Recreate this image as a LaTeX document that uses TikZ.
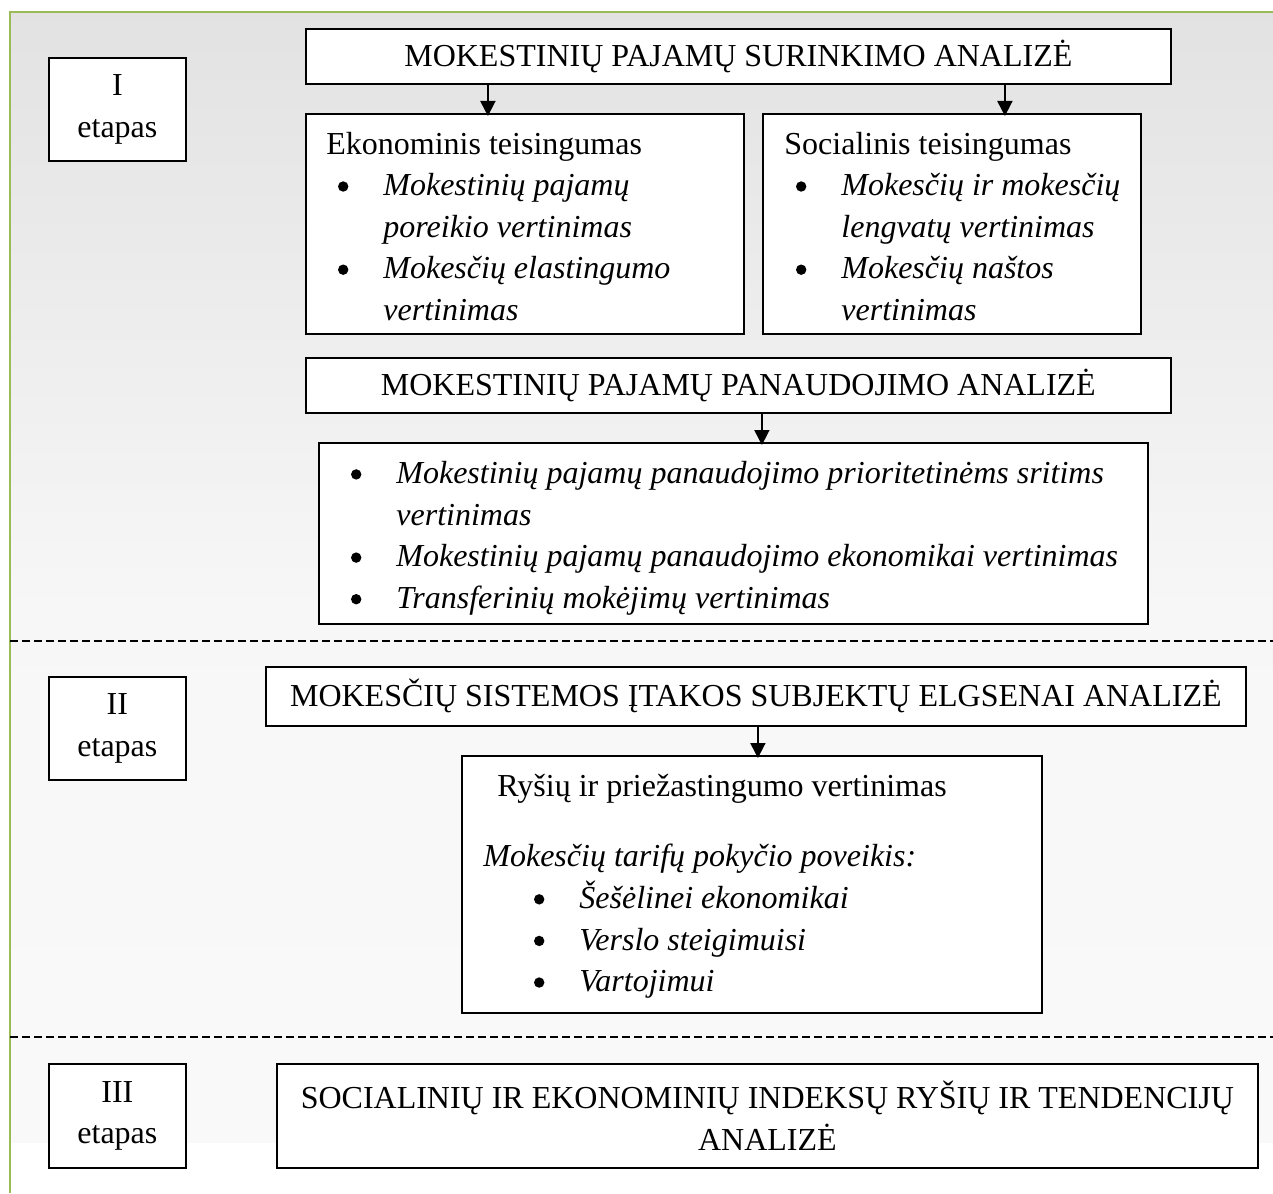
\documentclass[tikz,border=0pt]{standalone}
\usepackage{fontspec}
\setmainfont{Liberation Serif}
\usetikzlibrary{arrows.meta, positioning, calc}
\definecolor{rembas}{RGB}{155,187,89}
\pgfdeclareverticalshading{fonas}{100bp}{color(0bp)=(black!1.5); color(48bp)=(black!3); color(100bp)=(black!19)}
\newcommand{\taskas}{\tikz[baseline=-4.6pt]\fill (0,0) circle (2.6pt);}
\newcommand{\bul}{\hspace*{5.5pt}\makebox[23pt][l]{\hspace*{0.3pt}\taskas}}
\newcommand{\tes}{\hspace*{28.5pt}}

\begin{document}
\begin{tikzpicture}[x=0.5pt, y=-0.5pt,
    every node/.style={font=\fontsize{16pt}{20.8pt}\selectfont},
    dezute/.style={draw, line width=0.9pt, fill=white, inner sep=0pt, anchor=north west, align=center},
    tekstas/.style={inner sep=0pt, anchor=north west, align=left},
    rodykle/.style={-{Triangle[width=7.5pt, length=7.5pt]}, line width=0.9pt, shorten >=-1.5pt},
    skyrius/.style={dash pattern=on 4pt off 2pt, line width=0.8pt}]
    \useasboundingbox (0,0) rectangle (1273,1193);
    \shade[shading=fonas] (10,12) rectangle (1273,1142);
    \draw[rembas, line width=1pt] (10,1193) -- (10,12) -- (1273,12);
    \draw[skyrius] (10,641) -- (1273,641);
    \draw[skyrius] (10,1037) -- (1273,1037);

    \node[dezute, minimum width=68.5pt, minimum height=51.5pt] (etapasI) at (48,57) {I\\etapas};
    \node[dezute, minimum width=68.5pt, minimum height=51.5pt] (etapasII) at (48,676) {II\\etapas};
    \node[dezute, minimum width=68.5pt, minimum height=52pt] (etapasIII) at (48,1063) {III\\etapas};

    \node[dezute, minimum width=432.5pt, minimum height=27.5pt] (surinkimas) at (305,28) {MOKESTINIŲ PAJAMŲ SURINKIMO ANALIZĖ};
    \node[dezute, minimum width=219pt, minimum height=110pt] (ekonominis) at (305,113) {};
    \node[dezute, minimum width=189pt, minimum height=110pt] (socialinis) at (762,113) {};
    \node[dezute, minimum width=432.5pt, minimum height=27.5pt] (panaudojimas) at (305,357) {MOKESTINIŲ PAJAMŲ PANAUDOJIMO ANALIZĖ};
    \node[dezute, minimum width=414.5pt, minimum height=90.5pt] (sritys) at (318,442) {};
    \node[dezute, minimum width=490pt, minimum height=29.5pt] (elgsena) at (265,666) {MOKESČIŲ SISTEMOS ĮTAKOS SUBJEKTŲ ELGSENAI ANALIZĖ};
    \node[dezute, minimum width=290pt, minimum height=128.5pt] (rysiai) at (461,755) {};
    \node[dezute, minimum width=490.5pt, minimum height=52pt] (indeksai) at (276,1063) {SOCIALINIŲ IR EKONOMINIŲ INDEKSŲ RYŠIŲ IR TENDENCIJŲ\\ANALIZĖ};

    \node[tekstas] (ekontxt) at (326,131.5) {Ekonominis teisingumas\\
        \bul\textit{Mokestinių pajamų}\\ \tes\textit{poreikio vertinimas}\\
        \bul\textit{Mokesčių elastingumo}\\ \tes\textit{vertinimas}};
    \node[tekstas] (soctxt) at (784,131.5) {Socialinis teisingumas\\
        \bul\textit{Mokesčių ir mokesčių}\\ \tes\textit{lengvatų vertinimas}\\
        \bul\textit{Mokesčių naštos}\\ \tes\textit{vertinimas}};
    \node[tekstas] (sritystxt) at (339,461) {\bul\textit{Mokestinių pajamų panaudojimo prioritetinėms sritims}\\
        \tes\textit{vertinimas}\\
        \bul\textit{Mokestinių pajamų panaudojimo ekonomikai vertinimas}\\
        \bul\textit{Transferinių mokėjimų vertinimas}};
    \node[tekstas] (rysiaitxt) at (497,774) {Ryšių ir priežastingumo vertinimas};
    \node[tekstas] (tarifaitxt) at (483,844) {\textit{Mokesčių tarifų pokyčio poveikis:}\\
        \hspace*{19.5pt}\bul\textit{Šešėlinei ekonomikai}\\
        \hspace*{19.5pt}\bul\textit{Verslo steigimuisi}\\
        \hspace*{19.5pt}\bul\textit{Vartojimui}};

    \draw[rodykle] ([xshift=-18.5pt]ekonominis.north |- surinkimas.south) -- ([xshift=-18.5pt]ekonominis.north);
    \draw[rodykle] ([xshift=26.5pt]socialinis.north |- surinkimas.south) -- ([xshift=26.5pt]socialinis.north);
    \draw[rodykle] ([xshift=14.25pt]sritys.north |- panaudojimas.south) -- ([xshift=14.25pt]sritys.north);
    \draw[rodykle] ([xshift=3pt]rysiai.north |- elgsena.south) -- ([xshift=3pt]rysiai.north);
\end{tikzpicture}
\end{document}
